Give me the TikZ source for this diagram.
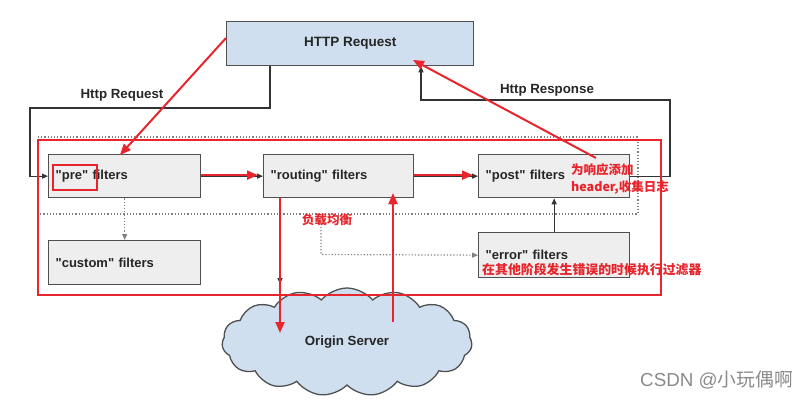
\documentclass[tikz,border=0pt]{standalone}
\usepackage{fontspec}
\setmainfont{Liberation Sans}
\newfontfamily\cjk{Noto Sans CJK SC}
\usetikzlibrary{arrows.meta,shapes.symbols,calc}
\definecolor{boxgray}{HTML}{EEEEEE}
\definecolor{edgegray}{HTML}{505050}
\definecolor{skyfill}{HTML}{CFDFEF}
\definecolor{myred}{HTML}{E8242C}
\definecolor{dotgray}{HTML}{808080}
\definecolor{wmgray}{HTML}{8A8A8A}
\newcommand\qq{\textquotedbl}
\begin{document}
\begin{tikzpicture}[x=1pt,y=-1pt,
  fbox/.style={draw=edgegray, line width=1.3pt, fill=boxgray, anchor=north west,
    inner xsep=7pt, inner ysep=0pt, align=left, font=\fontsize{13}{15}\selectfont\bfseries, text=black!85},
  blkline/.style={draw=black!80, line width=1.1pt},
  blkarrow/.style={blkline, -{Triangle[length=6pt,width=5pt]}},
  dotline/.style={draw=dotgray, line width=1.2pt, dotted},
  dotarrow/.style={dotline, -{Triangle[length=6pt,width=5pt]}},
  redline/.style={draw=myred, line width=2pt},
  redarrow/.style={redline, -{Triangle[length=11pt,width=9pt]}},
  lbl/.style={font=\fontsize{13.3}{15}\selectfont\bfseries, text=black!85, inner sep=0pt},
  redtxt/.style={font=\cjk\fontsize{12.5}{14}\selectfont\bfseries, text=myred, inner sep=0pt, anchor=west},
]
\useasboundingbox (0,0) rectangle (808,400);

% cloud
\node[cloud, cloud puffs=15, cloud puff arc=100, aspect=2.3, minimum width=250pt, minimum height=108pt,
      draw=edgegray, line width=1.3pt, fill=skyfill, font=\fontsize{13.3}{15}\selectfont\bfseries, text=black!85]
      (origin) at (347,342) {Origin Server};

% dotted frame
\draw[dotline] (38,137) -- (638,137) -- (638,214) -- (38,214);

% main boxes
\node[draw=edgegray, line width=1.3pt, fill=skyfill, anchor=north west, minimum width=247pt, minimum height=44pt,
      font=\fontsize{13.5}{15}\selectfont\bfseries, text=black!85] (http) at (226,21) {HTTP Request};
\node[fbox, text width=138pt, minimum height=43pt] (pre) at (48,154) {\qq pre\qq\ filters};
\node[fbox, text width=136pt, minimum height=43pt] (routing) at (263,154) {\qq routing\qq\ filters};
\node[fbox, text width=137pt, minimum height=43pt] (post) at (478,154) {\qq post\qq\ filters};
\node[fbox, text width=138pt, minimum height=44pt] (custom) at (48,240) {\qq custom\qq\ filters};
\node[fbox, text width=137pt, minimum height=45pt] (error) at (478,232) {\qq error\qq\ filters};

% labels
\node[lbl] (lreq) at (122,95) {Http Request};
\node[lbl] (lresp) at (547,90) {Http Response};

% bend coordinates
\coordinate (rq1) at (270,108);
\coordinate (rq2) at (30,108);
\coordinate (rs1) at (670,100);
\coordinate (rs2) at (421,100);
\coordinate (rtdown) at (280,284);
\coordinate (rtup) at (393,300);
\coordinate (lb1) at (321,214);
\coordinate (lb2) at (321,254.5);

% black connectors
\draw[blkarrow] (http.south -| rq1) -- (rq1) -- (rq2) |- (pre.west);
\draw[blkarrow] (post.east) -| (rs1) -- (rs2) -- (rs2 |- http.south);
\draw[blkarrow] (pre.east) -- (routing.west);
\draw[blkarrow] (routing.east) -- (post.west);
\draw[dotarrow] (pre.south) -- (custom.north);
\draw[blkarrow] (routing.south -| rtdown) -- (rtdown);
\draw[blkarrow] (rtup) -- (rtup |- routing.south);
\draw[blkarrow] (error.north) -- (post.south);
\draw[dotarrow] (lb1) -- (lb2) -- (error.west);

% red annotations
\draw[redline] (38,140) rectangle (661,295);
\draw[redline] (53,165) rectangle (97,190);
\coordinate (r1s) at (226,38);
\coordinate (r1e) at (120,155);
\coordinate (r2s) at (596,158);
\coordinate (r2e) at (413,60);
\coordinate (r3e) at (280,333);
\coordinate (r4s) at (393,322);
\coordinate (r4e) at (393,193);
\draw[redarrow] (r1s) -- (r1e);
\draw[redarrow] (r2s) -- (r2e);
\draw[redarrow] ([yshift=1pt]pre.east) -- ([xshift=-5pt,yshift=1pt]routing.west);
\draw[redarrow] ([yshift=1pt]routing.east) -- ([xshift=-5pt,yshift=1pt]post.west);
\draw[redarrow] (routing.south -| r3e) -- (r3e);
\draw[redarrow] (r4s) -- (r4e);

\node[redtxt] (t1) at (571,170) {为响应添加};
\node[redtxt] (t2) at (571,188) {header,收集日志};
\node[redtxt] (t3) at (302,220) {负载均衡};
\node[redtxt, font=\cjk\fontsize{12.9}{14}\selectfont\bfseries] (t4) at (482,270) {在其他阶段发生错误的时候执行过滤器};

\node[anchor=west, inner sep=0pt, text=wmgray, font=\fontsize{18.8}{20}\selectfont] (wm) at (640,380) {CSDN @{\cjk 小玩偶啊}};
\end{tikzpicture}
\end{document}
